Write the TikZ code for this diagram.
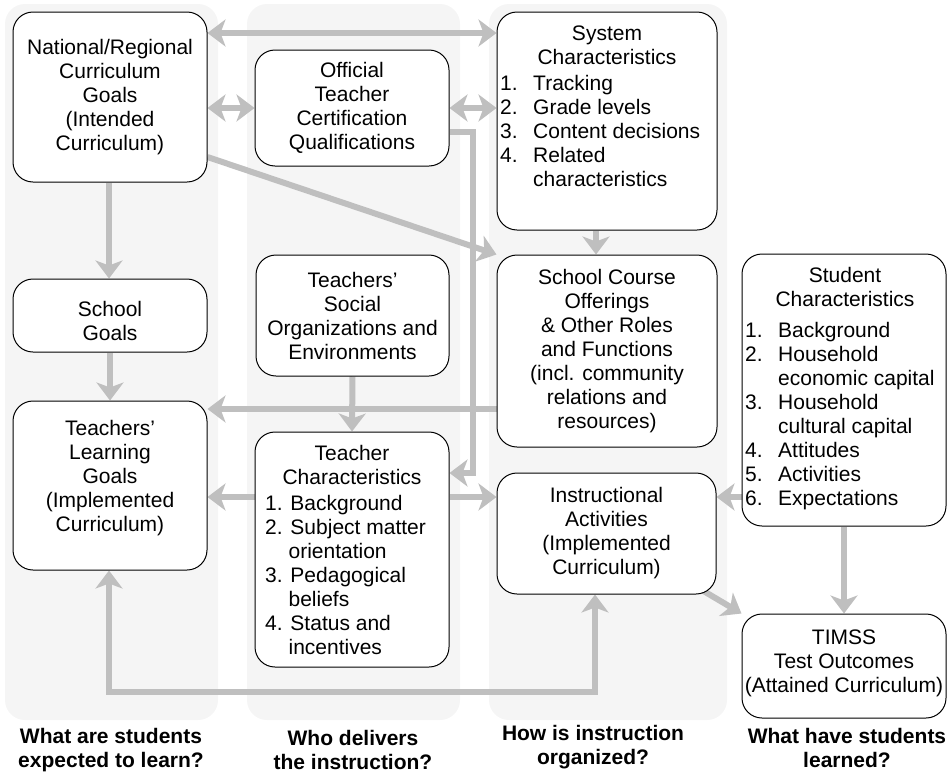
\documentclass[tikz,border=0pt]{standalone}
\usepackage{fontspec}
\setmainfont{Liberation Sans}
\usetikzlibrary{arrows.meta}
\pgfdeclarelayer{panels}
\pgfdeclarelayer{links}
\pgfsetlayers{panels,links,main}
\definecolor{panelgray}{RGB}{245,245,245}
\definecolor{linkgray}{RGB}{191,191,191}
\newcommand\lbl[1]{\makebox[33pt][l]{#1}}
\newcommand\ind{\hspace*{33pt}}
\newcommand\tind{\hspace*{23.4pt}}
\begin{document}
\begin{tikzpicture}[x=1pt,y=-1pt,
  gtip/.tip={Stealth[length=18pt,width=27pt,inset=5pt]},
  box/.style={draw=black,line width=1pt,rounded corners=20pt,fill=white,inner sep=0pt,
    font=\fontsize{21}{24}\selectfont,align=center},
  txt/.style={font=\fontsize{21}{24}\selectfont,align=center,inner sep=0pt},
  lst/.style={font=\fontsize{21}{24}\selectfont,align=left,inner sep=0pt,anchor=north west},
  qlabel/.style={font=\fontsize{21}{24}\selectfont\bfseries,align=center,inner sep=0pt},
  link/.style={draw=linkgray,line width=6pt,-gtip},
  both/.style={draw=linkgray,line width=6pt,gtip-gtip},
  plain/.style={draw=linkgray,line width=6pt},
  panel/.style={fill=panelgray,rounded corners=20pt}]
\useasboundingbox (0,0) rectangle (948,774);

% column panels
\begin{pgfonlayer}{panels}
  \fill[panel] (5,4) rectangle (218,720);
  \fill[panel] (247,4) rectangle (460,720);
  \fill[panel] (489,4) rectangle (727,720);
\end{pgfonlayer}

% boxes
\node[box,minimum width=194pt,minimum height=170pt] (nat) at (110,97)
  {National/Regional\\Curriculum\\Goals\\(Intended\\Curriculum)};
\node[box,minimum width=194pt,minimum height=116pt] (off) at (352,108)
  {Official\\Teacher\\Certification\\Qualifications};
\node[box,minimum width=220pt,minimum height=218pt] (sys) at (607,121) {};
\node[txt] (systitle) at (607,45) {System\\Characteristics};
\node[lst] (syslist) at (500,75)
  {\lbl{1.}Tracking\\\lbl{2.}Grade levels\\\lbl{3.}Content decisions\\\lbl{4.}Related\\\ind characteristics};

\node[box,minimum width=194pt,minimum height=73pt] (sg) at (110,315.5) {};
\node[txt] (sgtext) at (110,321) {School\\Goals};
\node[box,minimum width=193pt,minimum height=121pt] (tso) at (352.5,315.5)
  {Teachers’\\Social\\Organizations and\\Environments};
\node[box,minimum width=220pt,minimum height=192pt] (sco) at (607,351)
  {School Course\\Offerings\\\& Other Roles\\and Functions\\(incl. community\\relations and\\resources)};
\node[box,minimum width=204pt,minimum height=272pt] (stu) at (844,390) {};
\node[txt] (stutitle) at (845,286.5) {Student\\Characteristics};
\node[lst] (stulist) at (745,322)
  {\lbl{1.}Background\\\lbl{2.}Household\\\ind economic capital\\\lbl{3.}Household\\\ind cultural capital\\\lbl{4.}Attitudes\\\lbl{5.}Activities\\\lbl{6.}Expectations};

\node[box,minimum width=194pt,minimum height=169pt] (tlg) at (110,485.5) {};
\node[txt] (tlgtext) at (110,478) {Teachers’\\Learning\\Goals\\(Implemented\\Curriculum)};
\node[box,minimum width=194pt,minimum height=235pt] (tch) at (352,549.5) {};
\node[txt] (tchtitle) at (352,465) {Teacher\\Characteristics};
\node[lst] (tchlist) at (265,495)
  {1. Background\\2. Subject matter\\\tind orientation\\3. Pedagogical\\\tind beliefs\\4. Status and\\\tind incentives};
\node[box,minimum width=219pt,minimum height=121pt] (ins) at (606.5,533.5)
  {Instructional\\Activities\\(Implemented\\Curriculum)};
\node[box,minimum width=204pt,minimum height=104pt] (tim) at (844,666) {};
\node[txt] (timtext) at (844,663) {TIMSS\\Test Outcomes\\(Attained Curriculum)};

% column questions
\node[qlabel] (q1) at (111,750) {What are students\\expected to learn?};
\node[qlabel] (q2) at (353,750) {Who delivers\\the instruction?};
\node[qlabel] (q3) at (593,747.5) {How is instruction\\organized?};
\node[qlabel] (q4) at (847,747.5) {What have students\\learned?};

% routing points
\coordinate (yTop) at (0,33);
\coordinate (yDiag) at (0,157);
\coordinate (yMid) at (0,409);
\coordinate (yLow) at (0,497);
\coordinate (elbowA) at (473,132);
\coordinate (elbowB) at (473,473);
\coordinate (xSys) at (596,0);
\coordinate (loopL) at (109,692);
\coordinate (loopR) at (595,692);

% connectors
\begin{pgfonlayer}{links}
  \draw[both] (nat.east |- yTop) -- (sys.west |- yTop);
  \draw[both] (nat.east |- off.west) -- (off.west);
  \draw[both] (off.east) -- (sys.west |- off.east);
  \draw[link] (off.east |- elbowA) -- (elbowA) -- (elbowB) -- (tch.east |- elbowB);
  \draw[link] (nat.south -| loopL) -- (sg.north -| loopL);
  \draw[link] (nat.east |- yDiag) -- (sco.north west);
  \draw[link] (sys.south -| xSys) -- (sco.north -| xSys);
  \draw[link] (sg.south) -- (tlg.north);
  \draw[link] (tso.south) -- (tch.north);
  \draw[link] (sco.west |- yMid) -- (tlg.east |- yMid);
  \draw[link] (tch.west |- yLow) -- (tlg.east |- yLow);
  \draw[link] (tch.east |- yLow) -- (ins.west |- yLow);
  \draw[link] (stu.west |- yLow) -- (ins.east |- yLow);
  \draw[link] (stu.south) -- (tim.north);
  \draw[link] (ins.center) -- (tim.north west);
  \draw[both] (tlg.south -| loopL) -- (loopL) -- (loopR) -- (ins.south -| loopR);
\end{pgfonlayer}
\end{tikzpicture}
\end{document}
